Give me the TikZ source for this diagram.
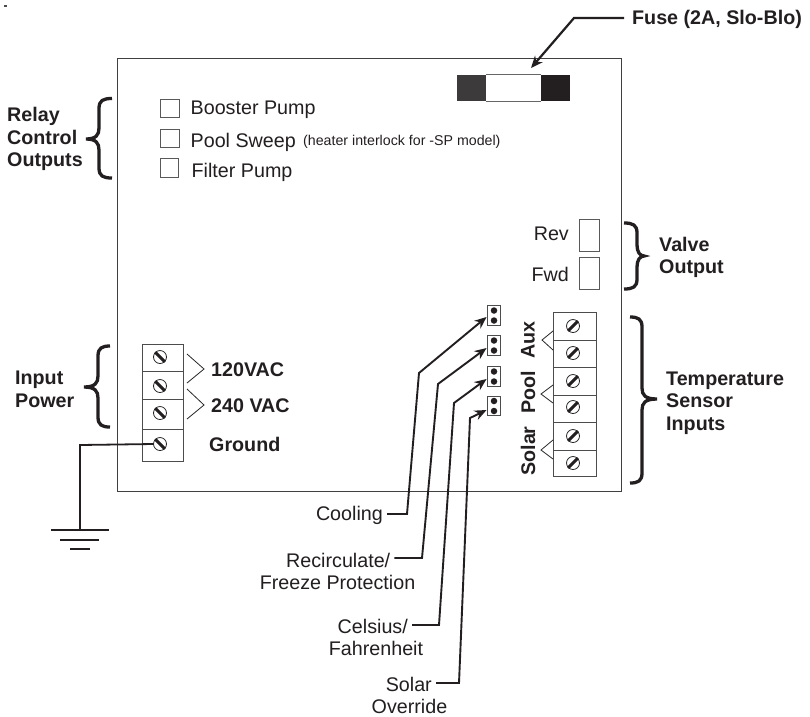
\documentclass[tikz,border=0pt]{standalone}
\usepackage{fontspec}
\setmainfont{Liberation Sans}
\usetikzlibrary{arrows.meta}
\definecolor{inkc}{HTML}{231F20}
\tikzset{
 x=1pt,y=-1pt,
 lab/.style={font=\fontsize{19.7}{22.7}\selectfont,text=inkc,inner sep=0pt},
 blab/.style={lab,font=\bfseries\fontsize{19.7}{22.7}\selectfont},
 cellbox/.style={draw=black!70,line width=0.9pt,fill=white,inner sep=0pt},
 screw/.style={circle,draw=black!85,line width=0.8pt,fill=white,minimum size=13pt,inner sep=0pt},
 jumper/.style={draw=black!70,line width=0.9pt,fill=white,minimum width=13pt,minimum height=19.5pt,inner sep=0pt},
 pin/.style={circle,fill=inkc,minimum size=6.5pt,inner sep=0pt},
 check/.style={draw=black!65,line width=0.9pt,fill=white,minimum size=18.5pt,inner sep=0pt},
 valve/.style={draw=black!65,line width=0.9pt,fill=white,minimum width=20pt,minimum height=32pt,inner sep=0pt},
 lead/.style={draw=inkc,line width=1.9pt,shorten <=4pt,-{Stealth[length=12pt,width=10pt]}},
 wire/.style={draw=inkc,line width=1.8pt},
 chev/.style={draw=black!85,line width=0.8pt},
 bracepath/.style={draw=inkc,line width=3.3pt,line cap=butt,miter limit=6},
}
\newcommand{\LBrace}[6]{% right, spine, tip, top, mid, bottom
 \draw[bracepath] (#1,#4) .. controls (#2+4,#4) and (#2,#4+2) .. (#2,#4+10) -- (#2,#5-11)
   .. controls (#2,#5-4) and (#2-3,#5) .. (#3,#5)
   .. controls (#2-3,#5) and (#2,#5+4) .. (#2,#5+11) -- (#2,#6-10)
   .. controls (#2,#6-2) and (#2+4,#6) .. (#1,#6);}
\newcommand{\ScrewR}[3]{\node[screw] (#1) at (#2,#3) {}; \draw[line width=3pt,inkc] (#1.225) -- (#1.45);}
\newcommand{\ScrewL}[3]{\node[screw] (#1) at (#2,#3) {}; \draw[line width=3pt,inkc] (#1.135) -- (#1.-45);}
\newcommand{\Jump}[2]{\node[jumper] (#1) at (493.5,#2) {};
  \node[pin] at (494,#2-5) {}; \node[pin] at (494,#2+5) {};}
\begin{document}
\begin{tikzpicture}
\useasboundingbox (0,0) rectangle (810,716);
\fill[white] (0,0) rectangle (810,716);
\fill[black!70] (4,5) rectangle (7,7);
% housing
\node[draw=black!75,line width=1pt,minimum width=504pt,minimum height=433pt,inner sep=0pt] (board) at (369,274.5) {};
% fuse
\node[fill=inkc!88,minimum width=29pt,minimum height=26pt,inner sep=0pt] (fuseL) at (471.5,88) {};
\node[fill=inkc,minimum width=29pt,minimum height=26pt,inner sep=0pt] (fuseR) at (555.5,88) {};
\draw[black!60,line width=1pt] (fuseL.north east) -- (fuseR.north west) (fuseL.south east) -- (fuseR.south west);
\node[blab,anchor=west] (fuselab) at (632,19) {Fuse (2A, Slo-Blo)};
\coordinate (fusebend) at (574,18);
\coordinate (fusetip) at (531,68);
\draw[lead,shorten <=8pt,line width=2.2pt] (fusebend -| fuselab.west) -- (fusebend) -- (fusetip);
% relay section
\LBrace{112}{99}{86}{98.5}{139}{178}
\node[blab,anchor=west,align=left] (relay) at (7,139) {Relay\\Control\\Outputs};
\node[check] (c1) at (170,108.5) {};
\node[check] (c2) at (170,138.5) {};
\node[check] (c3) at (169.5,168) {};
\node[lab,anchor=west] (t1) at (190.5,110) {Booster Pump};
\node[lab,anchor=west] (t2) at (190.5,142) {Pool Sweep};
\node[lab,anchor=west,font=\fontsize{14.2}{17}\selectfont] (t2b) at (303,141.5) {(heater interlock for -SP model)};
\node[lab,anchor=west] (t3) at (191.5,172) {Filter Pump};
% valve
\node[valve] (rev) at (589,235) {};
\node[valve] (fwd) at (589,273) {};
\node[lab,anchor=east] at (569,234) {Rev};
\node[lab,anchor=east] at (569,274) {Fwd};
\begin{scope}[xscale=-1]
\LBrace{-624}{-637}{-644}{223}{256}{289}
\LBrace{-630}{-642}{-657}{317}{399}{483}
\end{scope}
\node[blab,anchor=west,align=left] (valvelab) at (659,257.5) {Valve\\Output};
\node[blab,anchor=west,align=left] (templab) at (666,403) {Temperature\\Sensor\\Inputs};
% right terminal
\node[cellbox,minimum width=43pt,minimum height=28pt] (r1) at (574.5,326) {};
\node[cellbox,minimum width=43pt,minimum height=27pt] (r2) at (574.5,353.5) {};
\node[cellbox,minimum width=43pt,minimum height=28pt] (r3) at (574.5,381) {};
\node[cellbox,minimum width=43pt,minimum height=27pt] (r4) at (574.5,408.5) {};
\node[cellbox,minimum width=43pt,minimum height=28pt] (r5) at (574.5,436) {};
\node[cellbox,minimum width=43pt,minimum height=26pt] (r6) at (574.5,463) {};
\ScrewR{rs1}{573}{326}\ScrewR{rs2}{573}{353}\ScrewR{rs3}{573}{381}
\ScrewR{rs4}{573}{407}\ScrewR{rs5}{573}{436}\ScrewR{rs6}{573}{463}
\draw[chev] (553,331) -- (542,340) -- (553,350);
\draw[chev] (553,385) -- (541,394) -- (553,403);
\draw[chev] (553,440) -- (541,450) -- (553,459);
\node[blab,rotate=90] at (528,340) {Aux};
\node[blab,rotate=90] at (528,392) {Pool};
\node[blab,rotate=90] at (528,451) {Solar};
% jumpers
\Jump{j1}{315.5}\Jump{j2}{345.5}\Jump{j3}{376.5}\Jump{j4}{406}
\node[lab,anchor=east] (cool) at (383,515) {Cooling};
\node[lab,anchor=west] (recirc) at (286,560) {Recirculate/};
\node[lab] (freeze) at (337.5,582) {Freeze Protection};
\node[lab,anchor=east] (cels) at (408,626) {Celsius/};
\node[lab] (fahr) at (376,648) {Fahrenheit};
\node[lab,anchor=east] (solar) at (432,684) {Solar};
\node[lab] (over) at (409.5,706) {Override};
\coordinate (cb1) at (407,514); \coordinate (cb2) at (419,373);
\coordinate (rb1) at (422,558); \coordinate (rb2) at (438,384);
\coordinate (ce1) at (439,625); \coordinate (ce2) at (454,403);
\coordinate (so1) at (459,683); \coordinate (so2) at (470,418);
\draw[lead] (cb1 -| cool.east) -- (cb1) -- (cb2) -- ([yshift=-1.5pt]j1.west);
\draw[lead] (rb1 -| recirc.east) -- (rb1) -- (rb2) -- ([yshift=-2.5pt]j2.west);
\draw[lead] (ce1 -| cels.east) -- (ce1) -- (ce2) -- ([yshift=-2.5pt]j3.west);
\draw[lead] (so1 -| solar.east) -- (so1) -- (so2) -- ([yshift=-4pt]j4.west);
% left terminal
\node[cellbox,minimum width=41pt,minimum height=27pt] (l1) at (162.5,357.5) {};
\node[cellbox,minimum width=41pt,minimum height=28pt] (l2) at (162.5,385) {};
\node[cellbox,minimum width=41pt,minimum height=30pt] (l3) at (162.5,414) {};
\node[cellbox,minimum width=41pt,minimum height=32pt] (l4) at (162.5,445) {};
\ScrewL{ls1}{160}{357}\ScrewL{ls2}{160}{386}\ScrewL{ls3}{160}{413}\ScrewL{ls4}{160}{444}
\draw[chev] (187,354) -- (204,369) -- (187,383);
\draw[chev] (187,389) -- (204,405) -- (187,419);
\node[blab,anchor=west] at (211,370) {120VAC};
\node[blab,anchor=west] at (211,406) {240 VAC};
\node[blab,anchor=west] at (209,444) {Ground};
\LBrace{110}{98}{84}{346}{387}{427}
\node[blab,anchor=west,align=left] (input) at (15,389.5) {Input\\Power};
% ground
\coordinate (g0) at (80,445);
\coordinate (g1) at (80,530);
\draw[wire] (ls4.west) -- (g0) -- (g1);
\draw[wire] (51,530) -- (109,530);
\draw[wire] (60,540) -- (99,540);
\draw[wire] (70,549) -- (90,549);
\end{tikzpicture}
\end{document}
